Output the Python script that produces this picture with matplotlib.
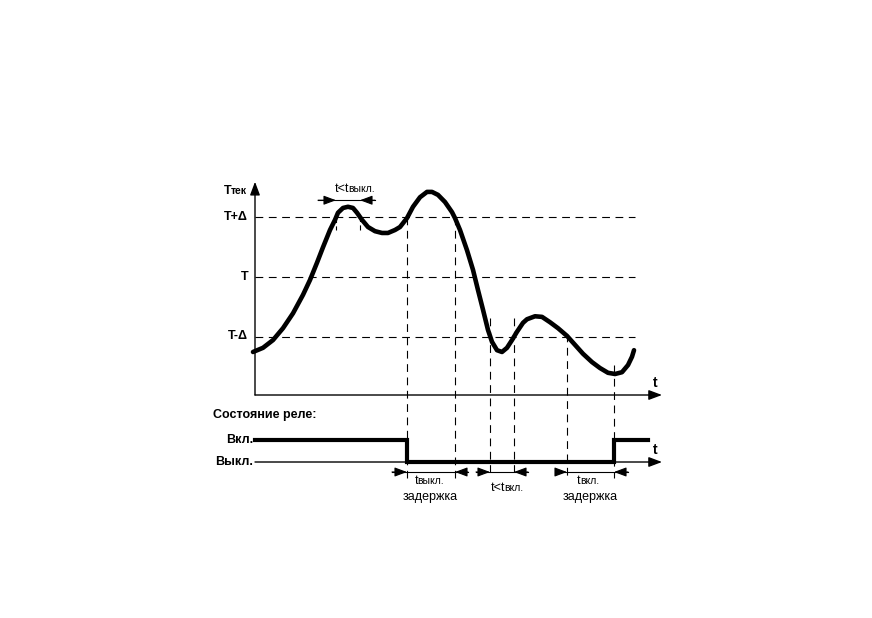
import matplotlib
matplotlib.use("Agg")
import matplotlib.pyplot as plt
from matplotlib.offsetbox import TextArea, HPacker, AnnotationBbox

plt.rcParams['font.family'] = ['Liberation Sans', 'DejaVu Sans']

# temperature curve: time (arbitrary units) and temperature in units of delta around setpoint T
time = [3, 13, 23, 33, 43, 53, 60, 67, 73, 80, 85, 88, 93, 98, 103, 107, 112, 118,
        125, 132, 138, 145, 150, 157, 163, 170, 177, 182, 188, 195, 202, 205, 210,
        217, 223, 228, 233, 238, 242, 247, 252, 257, 262, 267, 273, 277, 285, 292,
        300, 308, 317, 325, 333, 342, 350, 358, 365, 372, 378, 382, 384]
temp = [-1.26, -1.19, -1.06, -0.86, -0.61, -0.30, -0.05, 0.24, 0.50, 0.79, 0.96,
        1.08, 1.16, 1.18, 1.16, 1.08, 0.96, 0.84, 0.77, 0.74, 0.74, 0.79, 0.84, 0.99,
        1.18, 1.34, 1.43, 1.43, 1.38, 1.26, 1.09, 0.99, 0.79, 0.45, 0.12, -0.22,
        -0.55, -0.89, -1.09, -1.23, -1.26, -1.19, -1.06, -0.92, -0.77, -0.71, -0.66,
        -0.67, -0.76, -0.86, -0.99, -1.14, -1.29, -1.43, -1.53, -1.61, -1.63, -1.60,
        -1.48, -1.34, -1.23]

levels = [1.0, 0.0, -1.0]
level_labels = ["T+Δ", "T", "T-Δ"]

# relay state (1 = on, 0 = off)
relay_t = [5, 157, 157, 364, 364, 398]
relay_s = [1, 1, 0, 0, 1, 1]

# event markers: time, top and bottom of dashed line (temperature units)
marks_t = [86, 110, 157, 205, 240, 264, 317, 364]
marks_top = [1.0, 1.03, 1.0, 1.0, -0.69, -0.69, -0.95, -1.48]
marks_bot = [0.79, 0.79, -3.38, -3.38, -3.38, -3.38, -3.38, -3.38]

W, H = 872, 618
fig = plt.figure(figsize=(W / 100, H / 100), dpi=100)


def px(x, y):
    return x / W, 1 - y / H


def sub_text(x, y, main, sub, weight='normal', align=(0.5, 0.5)):
    a = TextArea(main, textprops=dict(fontsize=9, fontweight=weight))
    b = TextArea(sub, textprops=dict(fontsize=7.5, fontweight=weight))
    box = HPacker(children=[a, b], align='baseline', pad=0, sep=-0.6)
    ab = AnnotationBbox(box, px(x, y), xycoords='figure fraction',
                        box_alignment=align, frameon=False, pad=0)
    fig.add_artist(ab)


ax1 = fig.add_axes([250 / W, (H - 400) / H, 412 / W, 220 / H])
ax1.set_xlim(0, 412)
ax1.set_ylim(-2.067, 1.63)
ax1.axis('off')

ax2 = fig.add_axes([250 / W, (H - 500) / H, 412 / W, 75 / H])
ax2.set_xlim(0, 412)
ax2.set_ylim(-1.727, 1.682)
ax2.axis('off')

arrow = dict(arrowstyle='-|>,head_length=0.8,head_width=0.3', color='black',
             lw=1.0, shrinkA=0, shrinkB=0)
small = dict(arrowstyle='-|>,head_length=0.75,head_width=0.28', color='black',
             lw=0.8, shrinkA=0, shrinkB=0)
dash = (0, (7, 5))

# axes of top panel
ax1.annotate('', xy=(5, 1.60), xytext=(5, -1.983), arrowprops=arrow, annotation_clip=False)
ax1.annotate('', xy=(412, -1.983), xytext=(5, -1.983), arrowprops=arrow, annotation_clip=False)

for lv in levels:
    ax1.plot([5, 385], [lv, lv], color='black', lw=0.8, ls=dash)

for t, a, b in zip(marks_t, marks_top, marks_bot):
    ax1.plot([t, t], [a, b], color='black', lw=0.8, ls=(0, (5, 3)) if a - b < 1 else dash,
             clip_on=False)

ax1.plot(time, temp, color='black', lw=3.3, solid_joinstyle='round',
         solid_capstyle='round', clip_on=False)

# top interval arrows
ax1.plot([68, 125], [1.29, 1.29], color='black', lw=0.8)
ax1.annotate('', xy=(86, 1.29), xytext=(68, 1.29), arrowprops=small)
ax1.annotate('', xy=(110, 1.29), xytext=(125, 1.29), arrowprops=small)

# bottom panel
ax2.annotate('', xy=(412, 0), xytext=(5, 0), arrowprops=arrow, annotation_clip=False)
ax2.plot(relay_t, relay_s, color='black', lw=3.0, solid_joinstyle='miter')

y_ar = -0.4545
for a, b, c, d in [(142, 157, 218, 205), (226, 240, 278, 264), (307, 317, 378, 364)]:
    ax2.plot([a, c], [y_ar, y_ar], color='black', lw=0.8)
    ax2.annotate('', xy=(b, y_ar), xytext=(a, y_ar), arrowprops=small)
    ax2.annotate('', xy=(d, y_ar), xytext=(c, y_ar), arrowprops=small)

# labels
fs = 9
sub_text(247, 191, "T", "тек", weight='bold', align=(1, 0.5))
for lab, yy in zip(level_labels, [217, 277, 336]):
    fig.text(*px(248, yy), lab, ha='right', va='center', fontsize=fs, fontweight='bold')
sub_text(355, 189, "t<t", "выкл.")
fig.text(*px(655, 383), "t", ha='center', va='center', fontsize=fs + 1, fontweight='bold')
fig.text(*px(655, 450), "t", ha='center', va='center', fontsize=fs + 1, fontweight='bold')
fig.text(*px(213, 415), "Состояние реле:", ha='left', va='center', fontsize=fs, fontweight='bold')
fig.text(*px(253, 440), "Вкл.", ha='right', va='center', fontsize=fs, fontweight='bold')
fig.text(*px(253, 462), "Выкл.", ha='right', va='center', fontsize=fs, fontweight='bold')
sub_text(429, 481, "t", "выкл.")
fig.text(*px(430, 497), "задержка", ha='center', va='center', fontsize=fs)
sub_text(507, 488, "t<t", "вкл.")
sub_text(588, 481, "t", "вкл.")
fig.text(*px(590, 497), "задержка", ha='center', va='center', fontsize=fs)

fig.savefig("out.png", dpi=100, facecolor='white')
